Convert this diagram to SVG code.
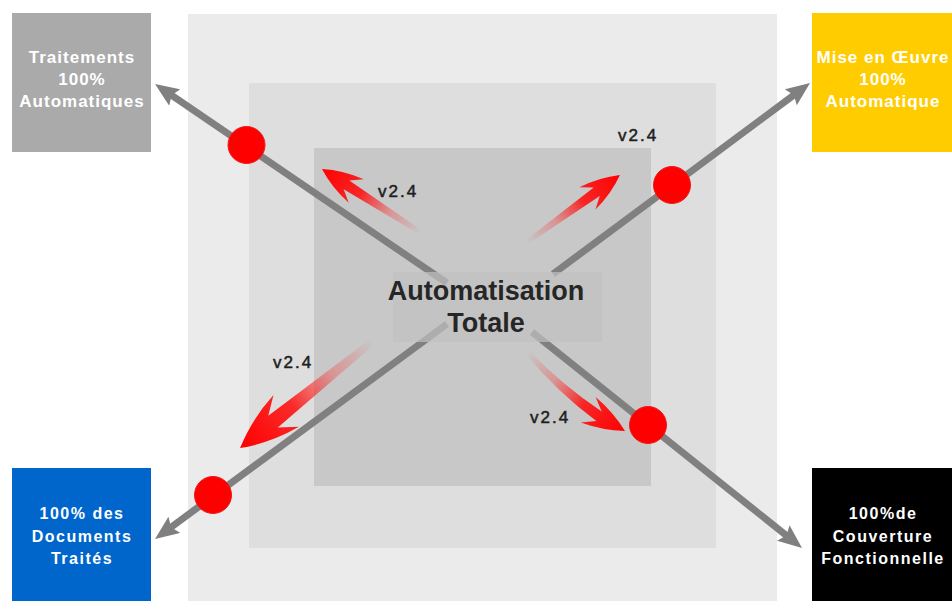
<svg xmlns="http://www.w3.org/2000/svg" xmlns:xlink="http://www.w3.org/1999/xlink" width="952" height="601" viewBox="0 0 952 601">
<style>
.box-t{font-family:"Liberation Sans",Arial,sans-serif;font-weight:bold;font-size:17px;letter-spacing:1px;fill:#ffffff;text-anchor:middle}
.box-b{font-family:"Liberation Sans",Arial,sans-serif;font-weight:bold;font-size:16px;letter-spacing:1.5px;fill:#ffffff;text-anchor:middle}
.ver{font-family:"Liberation Sans",Arial,sans-serif;font-size:17px;letter-spacing:2px;fill:#1e1e1e;stroke:#1e1e1e;stroke-width:0.5}
.center{font-family:"Liberation Sans",Arial,sans-serif;font-weight:bold;font-size:27px;fill:#262626;text-anchor:middle}
.conn{stroke:#808080;stroke-width:7;fill:none;marker-end:url(#gh)}
.dot{fill:#ff0000;stroke:#f01818;stroke-width:1}
</style>
<defs>
<marker id="gh" markerUnits="userSpaceOnUse" markerWidth="24" markerHeight="20" viewBox="0 0 24 20" refX="10" refY="10" orient="auto">
<path d="M0,0 L24,10 L0,20 L4,10 Z" fill="#808080"/>
</marker>
<linearGradient id="rg" x1="0" y1="0" x2="1" y2="0">
<stop offset="0" stop-color="#ff0000" stop-opacity="0"/>
<stop offset="0.3" stop-color="#ff2020" stop-opacity="0.3"/>
<stop offset="0.6" stop-color="#ff0a0a" stop-opacity="0.85"/>
<stop offset="1" stop-color="#ff0000" stop-opacity="1"/>
</linearGradient>
<path id="ra" d="M0,-2 L75,-4.5 L65,-12 Q84,-9 100,0 Q84,9 65,12 L75,4.5 L0,2 Z" fill="url(#rg)"/>
<path id="rac" d="M0,-2 Q38,3 75.5,-0.5 L64.5,-6.5 Q82.9,-6 100,0 Q85.5,11 68,17 L77,8.2 Q38,9.5 0,2 Z" fill="url(#rg)"/>
</defs>
<rect width="952" height="601" fill="#ffffff"/>
<g id="background">
<rect x="188" y="14" width="589" height="587" fill="#ebebeb"/>
<rect x="249" y="83" width="467" height="465" fill="#dedede"/>
<rect x="314" y="148" width="337" height="338" fill="#c8c8c8"/>
</g>
<g id="connectors">
<line class="conn" x1="447" y1="283" x2="166.6" y2="91.9"/>
<line class="conn" x1="553" y1="274" x2="798.8" y2="91.4"/>
<line class="conn" x1="447" y1="324" x2="166.3" y2="530.7"/>
<line class="conn" x1="532" y1="332" x2="791.1" y2="539.3"/>
</g>
<g id="milestones">
<circle class="dot" cx="246.5" cy="145" r="18.5"/>
<circle class="dot" cx="672" cy="185" r="18.5"/>
<circle class="dot" cx="213" cy="495" r="18.5"/>
<circle class="dot" cx="648" cy="425" r="18.5"/>
</g>
<g id="progress">
<use xlink:href="#ra" transform="translate(420,232) rotate(-147.3) scale(1.165)"/>
<use xlink:href="#ra" transform="translate(527,242) rotate(-35.8) scale(1.146)"/>
<use xlink:href="#ra" transform="translate(372,342) rotate(141.2) scale(1.693)"/>
<use xlink:href="#rac" transform="translate(528,353) rotate(38.8) scale(1.245)"/>
<text class="ver" x="378" y="197">v2.4</text>
<text class="ver" x="618" y="141">v2.4</text>
<text class="ver" x="273" y="368">v2.4</text>
<text class="ver" x="530" y="423">v2.4</text>
</g>
<g id="center">
<rect x="393" y="272" width="209" height="70" fill="#c0c0c0" fill-opacity="0.7"/>
<text class="center" x="486" y="300">Automatisation</text>
<text class="center" x="486" y="332">Totale</text>
</g>
<g id="node-tl">
<rect x="12" y="13" width="139" height="139" fill="#aaaaaa"/>
<text class="box-t" x="82" y="63">Traitements</text>
<text class="box-t" x="82" y="85">100%</text>
<text class="box-t" x="82" y="107">Automatiques</text>
</g>
<g id="node-tr">
<rect x="812" y="13" width="140" height="139" fill="#ffcc00"/>
<text class="box-t" x="883" y="63">Mise en Œuvre</text>
<text class="box-t" x="883" y="85">100%</text>
<text class="box-t" x="883" y="107">Automatique</text>
</g>
<g id="node-bl">
<rect x="12" y="468" width="139" height="133" fill="#0066cc"/>
<text class="box-b" x="82" y="519">100% des</text>
<text class="box-b" x="82" y="542">Documents</text>
<text class="box-b" x="82" y="564">Traités</text>
</g>
<g id="node-br">
<rect x="812" y="468" width="140" height="133" fill="#000000"/>
<text class="box-b" x="883" y="519">100%de</text>
<text class="box-b" x="883" y="542">Couverture</text>
<text class="box-b" x="883" y="564">Fonctionnelle</text>
</g>
</svg>
